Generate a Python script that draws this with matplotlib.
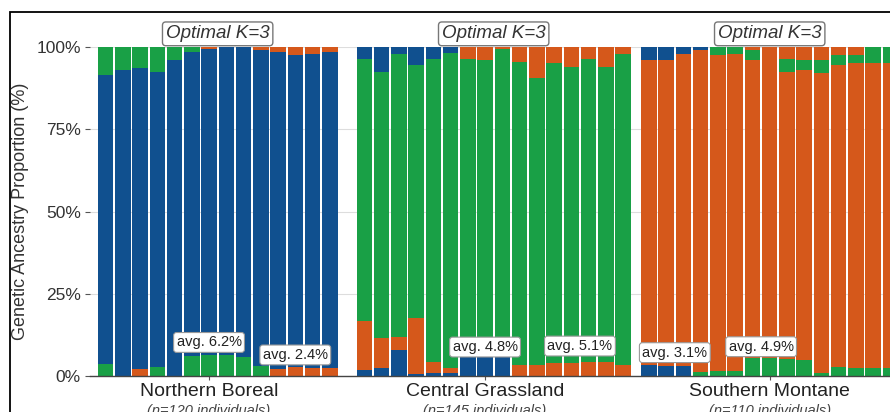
import numpy as np
import matplotlib
matplotlib.use("Agg")
import matplotlib.pyplot as plt
from matplotlib.patches import Rectangle
from matplotlib.transforms import blended_transform_factory

plt.rcParams['font.family'] = ['Liberation Sans', 'DejaVu Sans']

# --- data (percent ancestry per individual bar) ---
groups = ["Northern Boreal", "Central Grassland", "Southern Montane"]
group_n = [120, 145, 110]
optimal_k = [3, 3, 3]

# Northern Boreal: blue is the main cluster
north_green_lo = [3.6, 0, 0, 2.8, 0, 6.0, 6.5, 6.4, 5.9, 3.0, 0, 0, 0, 0]
north_orange_lo = [0, 0, 2.2, 0, 0, 0, 0, 0, 0, 0, 2.2, 2.6, 2.5, 2.3]
north_green_hi = [8.6, 7.0, 6.5, 7.5, 4.0, 1.5, 0, 0, 0, 0, 0, 0, 0, 0]
north_orange_hi = [0, 0, 0, 0, 0, 0, 0.6, 0, 0, 1.0, 1.4, 2.4, 2.0, 1.5]

# Central Grassland: green is the main cluster
central_blue_lo = [1.8, 2.3, 7.9, 0.5, 0.9, 0.8, 5.8, 6.2, 6.0, 0, 0, 0, 0, 0, 0, 0]
central_orange_lo = [14.8, 9.2, 4.1, 17.0, 3.4, 1.5, 0, 0, 0, 3.3, 3.3, 3.9, 4.0, 4.4, 4.4, 3.3]
central_blue_hi = [3.5, 7.5, 2.0, 5.5, 3.5, 1.7, 0, 0, 0, 0, 0, 0, 0, 0, 0, 0]
central_orange_hi = [0, 0, 0, 0, 0, 0, 3.5, 4.0, 0.5, 4.5, 9.5, 5.0, 6.0, 3.5, 6.0, 2.0]

# Southern Montane: orange is the main cluster
south_blue_lo = [3.3, 3.1, 2.9, 0, 0, 0, 0, 0, 0, 0, 0, 0, 0, 0, 0]
south_green_lo = [0, 0, 0, 1.3, 1.5, 1.5, 5.4, 5.6, 5.2, 5.0, 0.8, 2.8, 2.3, 2.3, 2.3]
south_green_hi = [0, 0, 0, 0, 2.4, 2.0, 3.0, 0, 4.0, 3.0, 4.0, 3.0, 2.5, 5.0, 5.0]
south_orange_hi = [0, 0, 0, 0, 0, 0, 1.0, 0, 3.5, 4.0, 3.8, 2.5, 2.4, 0, 0]
south_blue_hi = [4.0, 4.0, 2.0, 1.0, 0, 0, 0, 0, 0, 0, 0, 0, 0, 0, 0]

# minor-ancestry callouts: group, first bar, last bar, average
avg_group = [0, 0, 1, 1, 2, 2]
avg_first = [4, 9, 6, 10, 0, 5]
avg_last = [8, 13, 8, 15, 3, 8]
avg_value = [6.2, 2.4, 4.8, 5.1, 3.1, 4.9]

BLUE = "#10508f"
GREEN = "#19a046"
ORANGE = "#d5581b"

# bottom -> top, None = main cluster (whatever is left up to 100%)
stacks = [
    [(north_green_lo, GREEN), (north_orange_lo, ORANGE), (None, BLUE),
     (north_green_hi, GREEN), (north_orange_hi, ORANGE)],
    [(central_blue_lo, BLUE), (central_orange_lo, ORANGE), (None, GREEN),
     (central_blue_hi, BLUE), (central_orange_hi, ORANGE)],
    [(south_blue_lo, BLUE), (south_green_lo, GREEN), (None, ORANGE),
     (south_green_hi, GREEN), (south_orange_hi, ORANGE), (south_blue_hi, BLUE)],
]

fig = plt.figure(figsize=(8.9, 4.12), dpi=100)
ax = fig.add_axes([90 / 890, 36 / 412, 816 / 890, 329 / 412])

spacing = 16
bar_x = []
for g, layers in enumerate(stacks):
    n = len(layers[0][0])
    x = g * spacing + 6.5 + (np.arange(n) - (n - 1) / 2)
    bar_x.append(x)
    minor = sum(np.array(v, dtype=float) for v, c in layers if v is not None)
    bottom = np.zeros(n)
    for vals, col in layers:
        h = (100 - minor) if vals is None else np.array(vals, dtype=float)
        ax.bar(x, h / 100, width=0.9, bottom=bottom, color=col, linewidth=0, zorder=2)
        bottom += h / 100

trans = blended_transform_factory(ax.transData, ax.transAxes)
ticks = []
for g in range(len(groups)):
    x = bar_x[g]
    ticks.append(x[(len(x) - 1) // 2])
    ax.text(x.mean(), 1.04, "Optimal K=%d" % optimal_k[g], transform=trans,
            ha='center', va='center', fontsize=13.5, style='italic', color='#333',
            bbox=dict(boxstyle='round,pad=0.18', fc='white', ec='#777', lw=1))
    ax.text(ticks[-1], -0.084, "(n=%d individuals)" % group_n[g], transform=trans,
            ha='center', va='top', fontsize=10.5, style='italic', color='#444')

for g, a, b, v in zip(avg_group, avg_first, avg_last, avg_value):
    xs = bar_x[g][a:b + 1]
    ax.text(xs.mean(), v / 100 + 0.04, "avg. %.1f%%" % v, ha='center', va='center',
            fontsize=10.5, color='#222', zorder=5,
            bbox=dict(boxstyle='round,pad=0.2', fc='white', ec='#999', lw=0.8))

ax.set_xlim(-0.9, 46.4)
ax.set_ylim(0, 1)
ax.set_xticks(ticks)
ax.set_xticklabels(groups, fontsize=14, color='#222')
ax.set_yticks([0, 0.25, 0.5, 0.75, 1.0])
ax.set_yticklabels(["0%", "25%", "50%", "75%", "100%"], fontsize=12.5, color='#333')
ax.tick_params(axis='y', length=3.5, width=0.8, color='#555', pad=3)
ax.tick_params(axis='x', length=3, width=0.8, color='#555', pad=2)
ax.set_ylabel("Genetic Ancestry Proportion (%)", fontsize=13, color='#333')
ax.yaxis.set_label_coords(-0.075, 0.5)
ax.grid(axis='y', color='#dddddd', linewidth=0.8, zorder=0)
ax.set_axisbelow(True)
for s in ['top', 'right', 'left']:
    ax.spines[s].set_visible(False)
ax.spines['bottom'].set_color('#444')
ax.spines['bottom'].set_linewidth(1.0)

# outer frame of the (cropped) figure
fig.add_artist(Rectangle((9.5 / 890, -0.2), 1.2, 0.2 + 400.5 / 412, transform=fig.transFigure,
                         fill=False, ec='black', lw=1.3, clip_on=False))

plt.savefig('out.png', dpi=100)
